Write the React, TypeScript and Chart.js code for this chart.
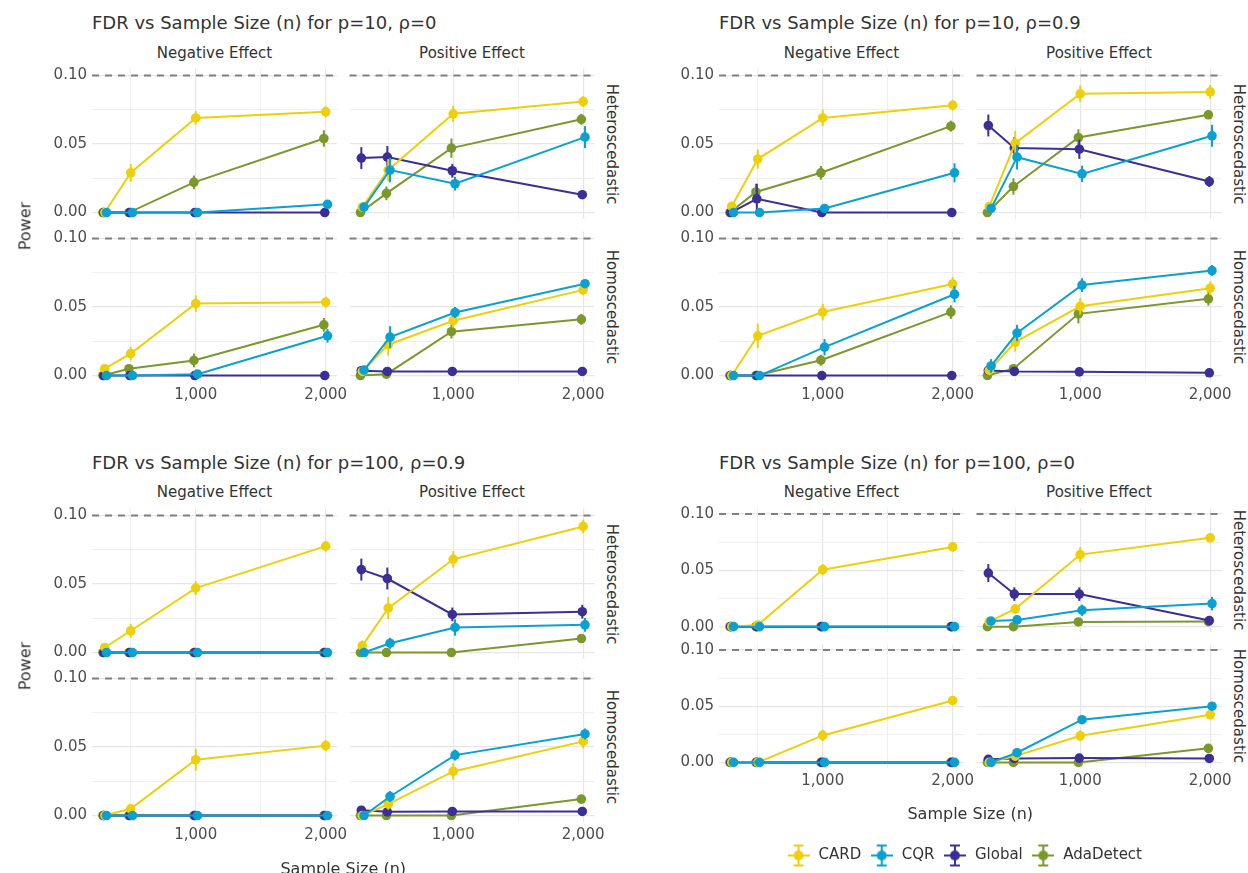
import React, { useEffect, useRef } from "react";
import { Chart, registerables } from "chart.js";
Chart.register(...registerables);

const FONT = "'DejaVu Sans', sans-serif";

// ---------- data ----------
const sampleSizes = [300, 500, 1000, 2000];
const methods = ["CARD", "CQR", "Global", "AdaDetect"];
const methodColors = ["#EDCF0C", "#0AA1D2", "#3B2E96", "#7A982B"];
const xGridValues = [500, 1000, 1500, 2000];
const xLabelValues = [1000, 2000];
const yGridValues = [0, 0.025, 0.05, 0.075, 0.1];
const yLabelValues = [0, 0.05, 0.1];
const fdrLevel = 0.1;
const effectLabels = ["Negative Effect", "Positive Effect"];
const varianceLabels = ["Heteroscedastic", "Homoscedastic"];
const panelTitles = [
  "FDR vs Sample Size (n) for p=10, ρ=0",
  "FDR vs Sample Size (n) for p=10, ρ=0.9",
  "FDR vs Sample Size (n) for p=100, ρ=0.9",
  "FDR vs Sample Size (n) for p=100, ρ=0",
];

// rows: CARD, CQR, Global, AdaDetect ; columns: n = 300, 500, 1000, 2000
// p=10, rho=0
const p10r0NegHet = [
  [0, 0.029, 0.069, 0.0735],
  [0, 0, 0, 0.006],
  [0, 0, 0, 0],
  [0, 0, 0.022, 0.054],
];
const p10r0NegHetErr = [
  [0, 0.0065, 0.005, 0.004],
  [0, 0, 0, 0.002],
  [0, 0, 0, 0],
  [0, 0, 0.005, 0.006],
];
const p10r0PosHet = [
  [0.004, 0.031, 0.072, 0.081],
  [0.004, 0.031, 0.021, 0.055],
  [0.0397, 0.0405, 0.0305, 0.013],
  [0, 0.014, 0.047, 0.068],
];
const p10r0PosHetErr = [
  [0.003, 0.008, 0.006, 0.004],
  [0.003, 0.009, 0.005, 0.008],
  [0.008, 0.008, 0.005, 0.003],
  [0, 0.005, 0.007, 0.004],
];
const p10r0NegHom = [
  [0.005, 0.016, 0.0525, 0.0535],
  [0, 0, 0.001, 0.029],
  [0, 0, 0, 0],
  [0, 0.005, 0.011, 0.037],
];
const p10r0NegHomErr = [
  [0.003, 0.005, 0.006, 0.004],
  [0, 0, 0.001, 0.005],
  [0, 0, 0, 0],
  [0, 0.002, 0.005, 0.005],
];
const p10r0PosHom = [
  [0.003, 0.0225, 0.04, 0.0625],
  [0.004, 0.028, 0.046, 0.067],
  [0.0035, 0.003, 0.003, 0.003],
  [0, 0.001, 0.032, 0.041],
];
const p10r0PosHomErr = [
  [0.003, 0.008, 0.005, 0.004],
  [0.003, 0.008, 0.004, 0.003],
  [0.001, 0, 0, 0],
  [0, 0.001, 0.005, 0.004],
];

// p=10, rho=0.9
const p10r9NegHet = [
  [0.0045, 0.039, 0.069, 0.0783],
  [0, 0, 0.003, 0.029],
  [0, 0.01, 0, 0],
  [0, 0.015, 0.029, 0.063],
];
const p10r9NegHetErr = [
  [0.003, 0.007, 0.006, 0.004],
  [0, 0, 0.002, 0.007],
  [0, 0.011, 0, 0],
  [0, 0.006, 0.005, 0.004],
];
const p10r9PosHet = [
  [0.0044, 0.0506, 0.0866, 0.088],
  [0.003, 0.0404, 0.0282, 0.056],
  [0.0635, 0.047, 0.0462, 0.0226],
  [0, 0.019, 0.0547, 0.0713],
];
const p10r9PosHetErr = [
  [0.003, 0.009, 0.006, 0.005],
  [0.003, 0.009, 0.006, 0.008],
  [0.008, 0.008, 0.007, 0.004],
  [0, 0.006, 0.006, 0.003],
];
const p10r9NegHom = [
  [0, 0.029, 0.0463, 0.0668],
  [0, 0, 0.0207, 0.0593],
  [0, 0, 0, 0],
  [0, 0, 0.0112, 0.0463],
];
const p10r9NegHomErr = [
  [0, 0.009, 0.006, 0.005],
  [0, 0, 0.006, 0.006],
  [0, 0, 0, 0],
  [0, 0, 0.004, 0.005],
];
const p10r9PosHom = [
  [0.0037, 0.0244, 0.0505, 0.0637],
  [0.007, 0.031, 0.066, 0.0766],
  [0.0037, 0.003, 0.0027, 0.002],
  [0, 0.005, 0.045, 0.056],
];
const p10r9PosHomErr = [
  [0.003, 0.007, 0.006, 0.005],
  [0.005, 0.006, 0.005, 0.004],
  [0.001, 0, 0, 0],
  [0, 0.002, 0.007, 0.005],
];

// p=100, rho=0.9
const p100r9NegHet = [
  [0.0037, 0.0159, 0.047, 0.0776],
  [0, 0, 0, 0],
  [0, 0, 0, 0],
  [0, 0, 0, 0],
];
const p100r9NegHetErr = [
  [0.003, 0.005, 0.005, 0.004],
  [0, 0, 0, 0],
  [0, 0, 0, 0],
  [0, 0, 0, 0],
];
const p100r9PosHet = [
  [0.0049, 0.0324, 0.068, 0.092],
  [0, 0.0068, 0.0183, 0.0202],
  [0.0605, 0.054, 0.0278, 0.0298],
  [0, 0, 0, 0.0102],
];
const p100r9PosHetErr = [
  [0.004, 0.008, 0.006, 0.005],
  [0, 0.004, 0.006, 0.005],
  [0.008, 0.008, 0.005, 0.005],
  [0, 0, 0, 0.002],
];
const p100r9NegHom = [
  [0, 0.0049, 0.0407, 0.051],
  [0, 0, 0, 0],
  [0, 0, 0, 0],
  [0, 0, 0, 0],
];
const p100r9NegHomErr = [
  [0, 0.003, 0.008, 0.004],
  [0, 0, 0, 0],
  [0, 0, 0, 0],
  [0, 0, 0, 0],
];
const p100r9PosHom = [
  [0, 0.0083, 0.0322, 0.0541],
  [0, 0.0139, 0.0441, 0.0595],
  [0.0039, 0.0027, 0.003, 0.003],
  [0, 0, 0, 0.012],
];
const p100r9PosHomErr = [
  [0, 0.004, 0.006, 0.005],
  [0, 0.004, 0.004, 0.004],
  [0.001, 0, 0, 0],
  [0, 0, 0, 0.003],
];

// p=100, rho=0
const p100r0NegHet = [
  [0, 0.0015, 0.0506, 0.0708],
  [0, 0, 0, 0],
  [0, 0, 0, 0],
  [0, 0, 0, 0],
];
const p100r0NegHetErr = [
  [0, 0.001, 0.005, 0.004],
  [0, 0, 0, 0],
  [0, 0, 0, 0],
  [0, 0, 0, 0],
];
const p100r0PosHet = [
  [0.0045, 0.0158, 0.064, 0.0789],
  [0.005, 0.006, 0.0146, 0.0205],
  [0.0476, 0.0289, 0.0289, 0.0054],
  [0, 0, 0.0042, 0.0045],
];
const p100r0PosHetErr = [
  [0.002, 0.004, 0.0067, 0.004],
  [0.003, 0.003, 0.005, 0.006],
  [0.008, 0.006, 0.006, 0.002],
  [0, 0, 0.001, 0.001],
];
const p100r0NegHom = [
  [0, 0, 0.024, 0.055],
  [0, 0, 0, 0],
  [0, 0, 0, 0],
  [0, 0, 0, 0],
];
const p100r0NegHomErr = [
  [0, 0, 0.005, 0.004],
  [0, 0, 0, 0],
  [0, 0, 0, 0],
  [0, 0, 0, 0],
];
const p100r0PosHom = [
  [0, 0.0056, 0.0237, 0.0424],
  [0, 0.0086, 0.038, 0.05],
  [0.0027, 0.0035, 0.0038, 0.0035],
  [0, 0, 0, 0.0125],
];
const p100r0PosHomErr = [
  [0, 0.004, 0.005, 0.004],
  [0, 0.002, 0.003, 0.003],
  [0, 0, 0, 0],
  [0, 0, 0, 0.002],
];

const panelValues = [
  [[p10r0NegHet, p10r0PosHet], [p10r0NegHom, p10r0PosHom]],
  [[p10r9NegHet, p10r9PosHet], [p10r9NegHom, p10r9PosHom]],
  [[p100r9NegHet, p100r9PosHet], [p100r9NegHom, p100r9PosHom]],
  [[p100r0NegHet, p100r0PosHet], [p100r0NegHom, p100r0PosHom]],
];
const panelErrors = [
  [[p10r0NegHetErr, p10r0PosHetErr], [p10r0NegHomErr, p10r0PosHomErr]],
  [[p10r9NegHetErr, p10r9PosHetErr], [p10r9NegHomErr, p10r9PosHomErr]],
  [[p100r9NegHetErr, p100r9PosHetErr], [p100r9NegHomErr, p100r9PosHomErr]],
  [[p100r0NegHetErr, p100r0PosHetErr], [p100r0NegHomErr, p100r0PosHomErr]],
];

// ---------- layout / style ----------
const X_MIN = 202;
const X_MAX = 2087;
const Y_MIN = -0.005;
const Y_MAX = 0.105;
const dodge = [0, 14, -7, -14];
const drawOrder = [1, 0, 2, 3];
const baseCols = [
  [92, 337],
  [349.5, 594.5],
];
const panelLayout = [
  { ox: 0, rows: [[68.6, 219.4], [231.6, 382.4]], titleY: 23, stripY: 53, power: true, xTitleY: 0 },
  { ox: 627, rows: [[68.6, 219.4], [231.6, 382.4]], titleY: 23, stripY: 53, power: false, xTitleY: 0 },
  { ox: 0, rows: [[508.6, 659.4], [671.6, 822.4]], titleY: 463, stripY: 492, power: true, xTitleY: 869 },
  { ox: 627, rows: [[508.4, 632.3], [644.4, 768]], titleY: 463, stripY: 492, power: false, xTitleY: 814 },
];
const TICK_COLOR = "#4D4D4D";
const TEXT_COLOR = "#333333";

const refLinePlugin = {
  id: "refLine",
  beforeDatasetsDraw(chart: any) {
    const { ctx, chartArea } = chart;
    const y = chart.scales.y.getPixelForValue(fdrLevel);
    ctx.save();
    ctx.strokeStyle = "#808080";
    ctx.lineWidth = 2;
    ctx.setLineDash([7, 6]);
    ctx.beginPath();
    ctx.moveTo(chartArea.left, y);
    ctx.lineTo(chartArea.right, y);
    ctx.stroke();
    ctx.restore();
  },
};

const errorBarPlugin = {
  id: "errorBars",
  beforeDatasetDraw(chart: any, args: any) {
    const ds = chart.data.datasets[args.index];
    const errs = ds.errors;
    if (!errs) return;
    const ctx = chart.ctx;
    const ys = chart.scales.y;
    ctx.save();
    ctx.strokeStyle = ds.borderColor;
    ctx.lineWidth = 2;
    args.meta.data.forEach((pt: any, i: number) => {
      const e = errs[i];
      if (!e) return;
      const v = ds.data[i].y;
      ctx.beginPath();
      ctx.moveTo(pt.x, ys.getPixelForValue(Math.max(0, v - e)));
      ctx.lineTo(pt.x, ys.getPixelForValue(v + e));
      ctx.stroke();
    });
    ctx.restore();
  },
};

function FacetChart({ rect, values, errors, showX, showY }: any) {
  const ref = useRef<HTMLCanvasElement>(null);
  const [x0, x1, y0, y1] = rect;
  const left = Math.floor(x0 - 70);
  const top = Math.floor(y0 - 10);
  const right = Math.ceil(x1 + 30);
  const bottom = Math.ceil(y1 + 32);
  const yW = showY ? 60 : 0;
  const xH = showX ? 26 : 0;
  useEffect(() => {
    const majorX = new Set(xLabelValues);
    const majorY = new Set(yLabelValues);
    const chart = new Chart(ref.current as HTMLCanvasElement, {
      type: "line",
      data: {
        datasets: methods.map((m, k) => ({
          label: m,
          data: sampleSizes.map((n, i) => ({ x: n + dodge[k], y: values[k][i] })),
          errors: errors[k],
          borderColor: methodColors[k],
          backgroundColor: methodColors[k],
          pointBackgroundColor: methodColors[k],
          pointBorderWidth: 0,
          pointRadius: 4.8,
          borderWidth: 2,
          tension: 0,
          order: drawOrder[k],
        })) as any,
      },
      options: {
        responsive: true,
        maintainAspectRatio: false,
        animation: false,
        events: [],
        layout: {
          autoPadding: false,
          padding: {
            left: x0 - left - yW,
            right: right - x1,
            top: y0 - top,
            bottom: bottom - y1 - xH,
          },
        },
        plugins: { legend: { display: false }, tooltip: { enabled: false } },
        scales: {
          x: {
            type: "linear",
            min: X_MIN,
            max: X_MAX,
            afterBuildTicks: (s: any) => {
              s.ticks = xGridValues.map((v) => ({ value: v }));
            },
            afterFit: (s: any) => {
              s.height = xH;
              s.paddingLeft = 0;
              s.paddingRight = 0;
            },
            grid: {
              drawTicks: false,
              color: (c: any) => (majorX.has(c.tick?.value) ? "#E6E6E6" : "#EFEFEF"),
              lineWidth: (c: any) => (majorX.has(c.tick?.value) ? 1.2 : 1),
            },
            border: { display: false },
            ticks: {
              display: showX,
              autoSkip: false,
              maxRotation: 0,
              padding: 4,
              color: TICK_COLOR,
              font: { family: FONT, size: 15 },
              callback: (v: any) => (majorX.has(v) ? Number(v).toLocaleString("en-US") : ""),
            },
          },
          y: {
            type: "linear",
            min: Y_MIN,
            max: Y_MAX,
            afterBuildTicks: (s: any) => {
              s.ticks = yGridValues.map((v) => ({ value: v }));
            },
            afterFit: (s: any) => {
              s.width = yW;
              s.paddingTop = 0;
              s.paddingBottom = 0;
            },
            grid: {
              drawTicks: false,
              color: (c: any) => (majorY.has(c.tick?.value) ? "#E6E6E6" : "#EFEFEF"),
              lineWidth: (c: any) => (majorY.has(c.tick?.value) ? 1.2 : 1),
            },
            border: { display: false },
            ticks: {
              display: showY,
              autoSkip: false,
              padding: 5,
              color: TICK_COLOR,
              font: { family: FONT, size: 15 },
              callback: (v: any) => (majorY.has(v) ? Number(v).toFixed(2) : ""),
            },
          },
        },
      } as any,
      plugins: [refLinePlugin, errorBarPlugin],
    });
    return () => chart.destroy();
  }, []);
  return (
    <div style={{ position: "absolute", left, top, width: right - left, height: bottom - top }}>
      <canvas ref={ref} />
    </div>
  );
}

function Label({ x, y, text, size, color = TEXT_COLOR, anchor = "center", rotate = 0 }: any) {
  const tx = anchor === "start" ? "0" : "-50%";
  return (
    <div
      style={{
        position: "absolute",
        left: x,
        top: y,
        transform: `translate(${tx}, -50%) rotate(${rotate}deg)`,
        fontSize: size,
        lineHeight: 1.2,
        color,
        whiteSpace: "nowrap",
        fontFamily: FONT,
      }}
    >
      {text}
    </div>
  );
}

function Panel({ index }: any) {
  const lay = panelLayout[index];
  const cols = baseCols.map(([a, b]) => [a + lay.ox, b + lay.ox]);
  const items: any[] = [];
  items.push(<Label key="t" x={cols[0][0]} y={lay.titleY} text={panelTitles[index]} size={18} anchor="start" />);
  cols.forEach((c, ci) =>
    items.push(<Label key={"s" + ci} x={(c[0] + c[1]) / 2} y={lay.stripY} text={effectLabels[ci]} size={15} />)
  );
  lay.rows.forEach((r, ri) =>
    items.push(
      <Label key={"r" + ri} x={cols[1][1] + 17.5} y={(r[0] + r[1]) / 2} text={varianceLabels[ri]} size={15} rotate={90} />
    )
  );
  lay.rows.forEach((r, ri) =>
    cols.forEach((c, ci) =>
      items.push(
        <FacetChart
          key={`f${ri}${ci}`}
          rect={[c[0], c[1], r[0], r[1]]}
          values={panelValues[index][ri][ci]}
          errors={panelErrors[index][ri][ci]}
          showX={ri === 1}
          showY={ci === 0}
        />
      )
    )
  );
  if (lay.power) {
    items.push(
      <Label key="p" x={25} y={(lay.rows[0][0] + lay.rows[1][1]) / 2} text="Power" size={16} rotate={-90} />
    );
  }
  if (lay.xTitleY) {
    items.push(
      <Label key="xt" x={(cols[0][0] + cols[1][1]) / 2} y={lay.xTitleY} text="Sample Size (n)" size={16} />
    );
  }
  return <>{items}</>;
}

function makeLegendIcon(color: string) {
  const c = document.createElement("canvas");
  c.width = 22;
  c.height = 24;
  const g = c.getContext("2d") as CanvasRenderingContext2D;
  g.strokeStyle = color;
  g.fillStyle = color;
  g.lineWidth = 2;
  g.beginPath();
  g.moveTo(0, 12);
  g.lineTo(22, 12);
  g.moveTo(11, 2);
  g.lineTo(11, 22);
  g.moveTo(6, 2);
  g.lineTo(16, 2);
  g.moveTo(6, 22);
  g.lineTo(16, 22);
  g.stroke();
  g.beginPath();
  g.arc(11, 12, 5, 0, Math.PI * 2);
  g.fill();
  return c;
}

function LegendChart() {
  const ref = useRef<HTMLCanvasElement>(null);
  useEffect(() => {
    const icons = methodColors.map(makeLegendIcon);
    const chart = new Chart(ref.current as HTMLCanvasElement, {
      type: "line",
      data: {
        datasets: methods.map((m, k) => ({ label: m, data: [], borderColor: methodColors[k] })),
      },
      options: {
        responsive: true,
        maintainAspectRatio: false,
        animation: false,
        events: [],
        layout: { padding: { top: 8, left: 0, right: 0, bottom: 0 } },
        scales: { x: { display: false }, y: { display: false } },
        plugins: {
          tooltip: { enabled: false },
          legend: {
            display: true,
            position: "top",
            maxHeight: 60,
            labels: {
              usePointStyle: true,
              pointStyleWidth: 25,
              boxHeight: 15,
              padding: 8,
              color: TEXT_COLOR,
              font: { family: FONT, size: 15 },
              generateLabels: (ch: any) =>
                ch.data.datasets.map((ds: any, i: number) => ({
                  text: ds.label,
                  pointStyle: icons[i],
                  fillStyle: methodColors[i],
                  strokeStyle: methodColors[i],
                  lineWidth: 0,
                  hidden: false,
                  datasetIndex: i,
                  fontColor: TEXT_COLOR,
                })),
            },
          },
        },
      } as any,
    });
    return () => chart.destroy();
  }, []);
  return (
    <div style={{ position: "absolute", left: 664, top: 832, width: 600, height: 41 }}>
      <canvas ref={ref} />
    </div>
  );
}

export default function App() {
  return (
    <div
      style={{
        position: "fixed",
        left: 0,
        top: 0,
        width: 1248,
        height: 873,
        background: "#ffffff",
        overflow: "hidden",
        fontFamily: FONT,
      }}
    >
      {panelTitles.map((_, i) => (
        <Panel key={i} index={i} />
      ))}
      <LegendChart />
    </div>
  );
}
